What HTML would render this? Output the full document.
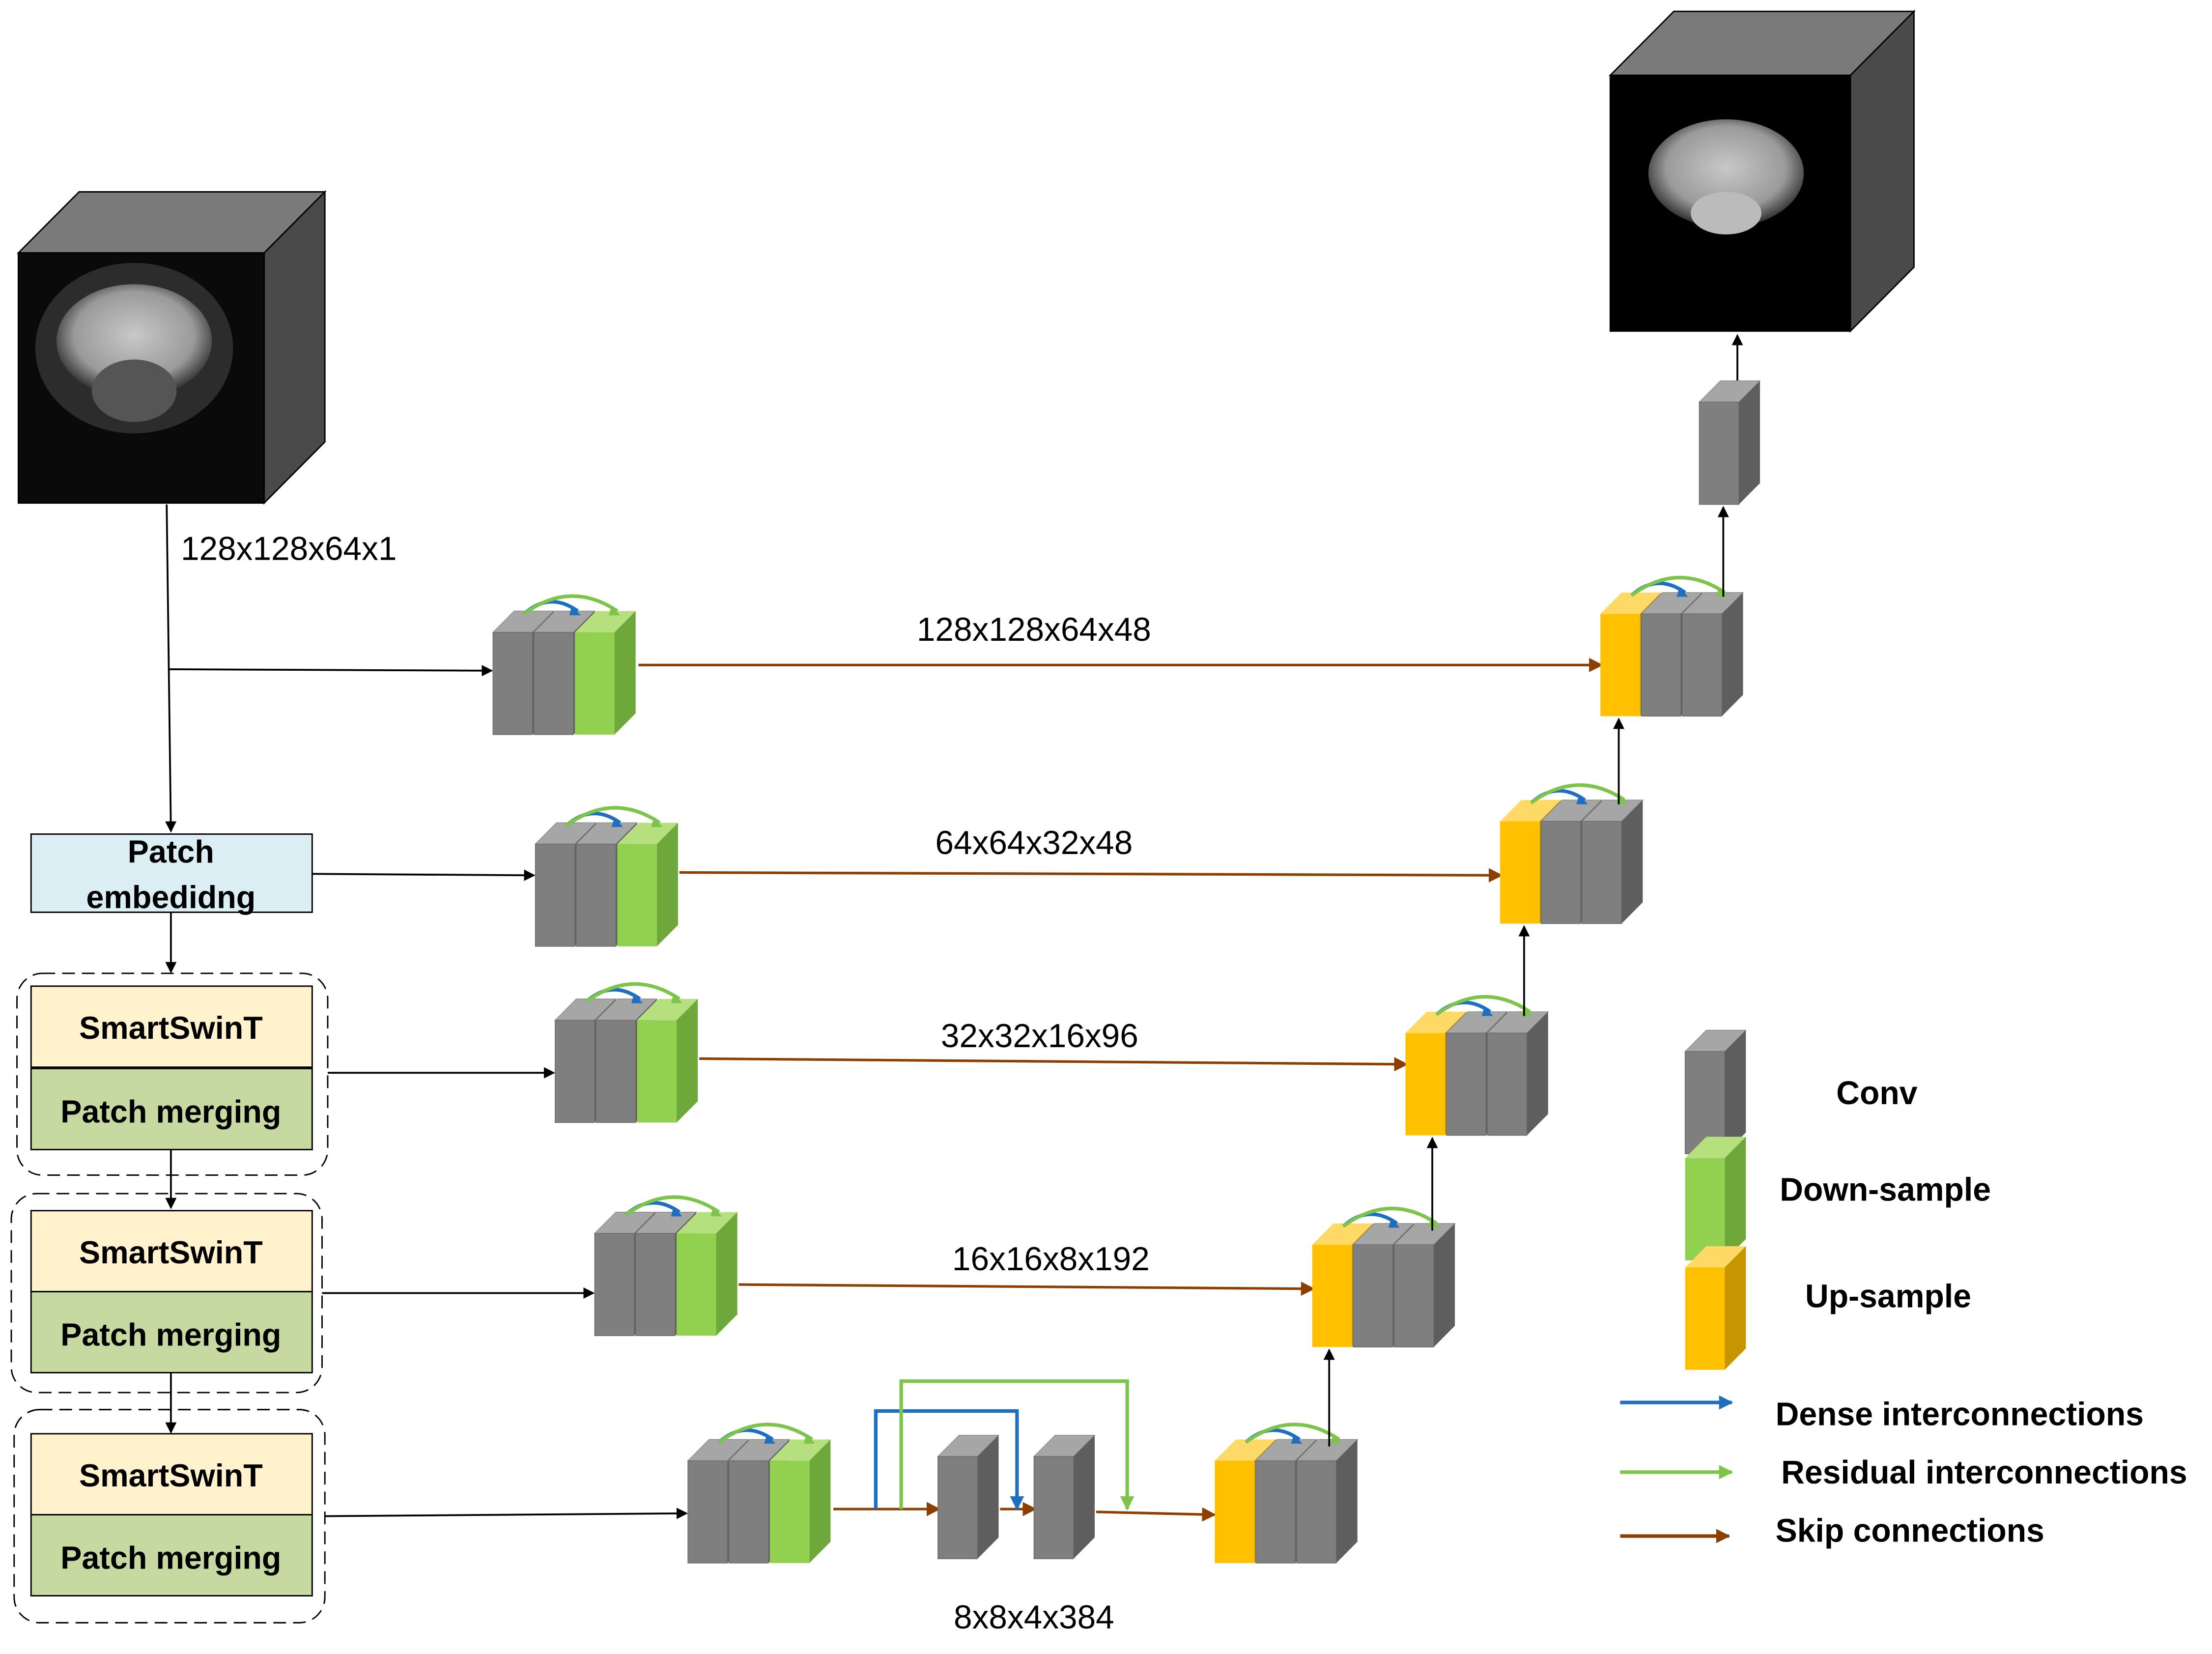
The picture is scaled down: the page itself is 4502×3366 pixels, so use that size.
<!DOCTYPE html>
<html><head><meta charset="utf-8"><style>
html,body{margin:0;padding:0;background:#fff;}
svg{display:block;}
text{font-family:"Liberation Sans",sans-serif;}
</style></head><body>
<svg width="4502" height="3366" viewBox="0 0 1566 1164" preserveAspectRatio="none" xmlns="http://www.w3.org/2000/svg">
<defs>
<g id="gb"><polygon points="0,15 15,0 43,0 28,15" fill="#a6a6a6" stroke="#8c8c8c" stroke-width="0.5"/><polygon points="28,15 43,0 43,72 28,87" fill="#5e5e5e"/><rect x="0" y="15" width="28" height="72" fill="#7f7f7f" stroke="#6a6a6a" stroke-width="0.5"/></g>
<g id="gg"><polygon points="0,15 15,0 43,0 28,15" fill="#b6e07e"/><polygon points="28,15 43,0 43,72 28,87" fill="#6ea83a"/><rect x="0" y="15" width="28" height="72" fill="#92d050"/></g>
<g id="gy"><polygon points="0,15 15,0 43,0 28,15" fill="#ffd966"/><polygon points="28,15 43,0 43,72 28,87" fill="#c79500"/><rect x="0" y="15" width="28" height="72" fill="#ffc000"/></g>
<g id="enc"><use href="#gb" x="0"/><use href="#gb" x="29"/><use href="#gg" x="58"/>
<path d="M22,2 Q40,-14 60,0" fill="none" stroke="#1f6fc0" stroke-width="2.5"/><polygon points="56,-4 62,3 54,3" fill="#1f6fc0"/>
<path d="M22,2 Q55,-22 88,0" fill="none" stroke="#7cc54a" stroke-width="2.5"/><polygon points="84,-4 90,3 82,3" fill="#7cc54a"/></g>
<g id="dec"><use href="#gy" x="0"/><use href="#gb" x="29"/><use href="#gb" x="58"/>
<path d="M22,2 Q40,-14 60,0" fill="none" stroke="#1f6fc0" stroke-width="2.5"/><polygon points="56,-4 62,3 54,3" fill="#1f6fc0"/>
<path d="M22,2 Q55,-22 88,0" fill="none" stroke="#7cc54a" stroke-width="2.5"/><polygon points="84,-4 90,3 82,3" fill="#7cc54a"/></g>
<marker id="ak" markerWidth="8" markerHeight="8" refX="7" refY="4" orient="auto" markerUnits="userSpaceOnUse"><path d="M0,0 L8,4 L0,8z" fill="#000"/></marker>
<marker id="ab" markerWidth="10" markerHeight="10" refX="9" refY="5" orient="auto" markerUnits="userSpaceOnUse"><path d="M0,0 L10,5 L0,10z" fill="#8b3f00"/></marker>
<marker id="abl" markerWidth="10" markerHeight="10" refX="9" refY="5" orient="auto" markerUnits="userSpaceOnUse"><path d="M0,0 L10,5 L0,10z" fill="#1f6fc0"/></marker>
<marker id="agr" markerWidth="10" markerHeight="10" refX="9" refY="5" orient="auto" markerUnits="userSpaceOnUse"><path d="M0,0 L10,5 L0,10z" fill="#7cc54a"/></marker>
<radialGradient id="br" cx="50%" cy="45%" r="55%"><stop offset="0" stop-color="#c8c8c8"/><stop offset="0.7" stop-color="#9a9a9a"/><stop offset="1" stop-color="#303030"/></radialGradient>
</defs>

<polygon points="13,178 56,135 230,135 187,178" fill="#7a7a7a" stroke="#000" stroke-width="1"/>
<polygon points="187,178 230,135 230,311 187,354" fill="#4a4a4a" stroke="#000" stroke-width="1"/>
<rect x="13" y="178" width="174" height="176" fill="#0a0a0a" stroke="#000"/>
<ellipse cx="95" cy="245" rx="70" ry="60" fill="#3a3a3a" opacity="0.7"/>
<ellipse cx="95" cy="240" rx="55" ry="40" fill="url(#br)"/>
<ellipse cx="95" cy="275" rx="30" ry="22" fill="#555"/>

<polygon points="1140,53 1185,8 1355,8 1310,53" fill="#7a7a7a" stroke="#000"/>
<polygon points="1310,53 1355,8 1355,188 1310,233" fill="#4a4a4a" stroke="#000"/>
<rect x="1140" y="53" width="170" height="180" fill="#000" stroke="#000"/>
<ellipse cx="1222" cy="122" rx="55" ry="38" fill="url(#br)"/>
<ellipse cx="1222" cy="150" rx="25" ry="15" fill="#bbb"/>

<line x1="118" y1="355" x2="121" y2="585" stroke="#000" stroke-width="1.3" marker-end="url(#ak)"/>
<line x1="120" y1="471" x2="348" y2="472" stroke="#000" stroke-width="1.3" marker-end="url(#ak)"/>
<text x="128" y="394" font-size="23.5">128x128x64x1</text>

<rect x="22" y="587" width="199" height="55" fill="#dbeef4" stroke="#000" stroke-width="1"/>
<text x="121" y="607" font-size="22.5" font-weight="bold" text-anchor="middle">Patch</text>
<text x="121" y="639" font-size="22.5" font-weight="bold" text-anchor="middle">embedidng</text>
<line x1="221" y1="615" x2="378" y2="616" stroke="#000" stroke-width="1.3" marker-end="url(#ak)"/>
<line x1="121" y1="642" x2="121" y2="684" stroke="#000" stroke-width="1.3" marker-end="url(#ak)"/>

<rect x="12" y="685" width="220" height="142" rx="18" fill="none" stroke="#000" stroke-dasharray="9,5"/>
<rect x="22" y="694" width="199" height="57" fill="#fff2cc" stroke="#000"/>
<text x="121" y="731" font-size="22.5" font-weight="bold" text-anchor="middle">SmartSwinT</text>
<rect x="22" y="752" width="199" height="57" fill="#c5d9a0" stroke="#000"/>
<text x="121" y="790" font-size="22.5" font-weight="bold" text-anchor="middle">Patch merging</text>
<line x1="232" y1="755" x2="392" y2="755" stroke="#000" stroke-width="1.3" marker-end="url(#ak)"/>
<line x1="121" y1="809" x2="121" y2="850" stroke="#000" stroke-width="1.3" marker-end="url(#ak)"/>

<rect x="8" y="840" width="220" height="140" rx="18" fill="none" stroke="#000" stroke-dasharray="9,5"/>
<rect x="22" y="852" width="199" height="57" fill="#fff2cc" stroke="#000"/>
<text x="121" y="889" font-size="22.5" font-weight="bold" text-anchor="middle">SmartSwinT</text>
<rect x="22" y="909" width="199" height="57" fill="#c5d9a0" stroke="#000"/>
<text x="121" y="947" font-size="22.5" font-weight="bold" text-anchor="middle">Patch merging</text>
<line x1="228" y1="910" x2="420" y2="910" stroke="#000" stroke-width="1.3" marker-end="url(#ak)"/>
<line x1="121" y1="966" x2="121" y2="1008" stroke="#000" stroke-width="1.3" marker-end="url(#ak)"/>

<rect x="10" y="992" width="220" height="150" rx="18" fill="none" stroke="#000" stroke-dasharray="9,5"/>
<rect x="22" y="1009" width="199" height="57" fill="#fff2cc" stroke="#000"/>
<text x="121" y="1046" font-size="22.5" font-weight="bold" text-anchor="middle">SmartSwinT</text>
<rect x="22" y="1066" width="199" height="57" fill="#c5d9a0" stroke="#000"/>
<text x="121" y="1104" font-size="22.5" font-weight="bold" text-anchor="middle">Patch merging</text>
<line x1="230" y1="1067" x2="486" y2="1065" stroke="#000" stroke-width="1.3" marker-end="url(#ak)"/>

<line x1="452" y1="468" x2="1134" y2="468" stroke="#8b3f00" stroke-width="1.8" marker-end="url(#ab)"/>
<text x="732" y="451" font-size="23.5" text-anchor="middle">128x128x64x48</text>
<line x1="481" y1="614" x2="1063" y2="616" stroke="#8b3f00" stroke-width="1.8" marker-end="url(#ab)"/>
<text x="732" y="601" font-size="23.5" text-anchor="middle">64x64x32x48</text>
<line x1="495" y1="745" x2="996" y2="749" stroke="#8b3f00" stroke-width="1.8" marker-end="url(#ab)"/>
<text x="736" y="737" font-size="23.5" text-anchor="middle">32x32x16x96</text>
<line x1="523" y1="904" x2="930" y2="907" stroke="#8b3f00" stroke-width="1.8" marker-end="url(#ab)"/>
<text x="744" y="894" font-size="23.5" text-anchor="middle">16x16x8x192</text>
<line x1="590" y1="1062" x2="665" y2="1062" stroke="#8b3f00" stroke-width="1.8" marker-end="url(#ab)"/>
<line x1="708" y1="1062" x2="733" y2="1062" stroke="#8b3f00" stroke-width="1.8" marker-end="url(#ab)"/>
<line x1="776" y1="1064" x2="860" y2="1066" stroke="#8b3f00" stroke-width="1.8" marker-end="url(#ab)"/>
<text x="732" y="1146" font-size="23.5" text-anchor="middle">8x8x4x384</text>

<polyline points="620,1062 620,993 720,993 720,1062" fill="none" stroke="#1f6fc0" stroke-width="2.5" marker-end="url(#abl)"/>
<polyline points="638,1062 638,972 798,972 798,1062" fill="none" stroke="#7cc54a" stroke-width="2.5" marker-end="url(#agr)"/>

<use href="#enc" x="349" y="430"/>
<use href="#enc" x="379" y="579"/>
<use href="#enc" x="393" y="703"/>
<use href="#enc" x="421" y="853"/>
<use href="#enc" x="487" y="1013"/>

<use href="#gb" x="664" y="1010"/>
<use href="#gb" x="732" y="1010"/>

<use href="#dec" x="1133" y="417"/>
<use href="#dec" x="1062" y="563"/>
<use href="#dec" x="995" y="712"/>
<use href="#dec" x="929" y="861"/>
<use href="#dec" x="860" y="1013"/>

<line x1="941" y1="1018" x2="941" y2="950" stroke="#000" stroke-width="1.3" marker-end="url(#ak)"/>
<line x1="1014" y1="866" x2="1014" y2="801" stroke="#000" stroke-width="1.3" marker-end="url(#ak)"/>
<line x1="1079" y1="715" x2="1079" y2="652" stroke="#000" stroke-width="1.3" marker-end="url(#ak)"/>
<line x1="1146" y1="566" x2="1146" y2="506" stroke="#000" stroke-width="1.3" marker-end="url(#ak)"/>
<line x1="1220" y1="420" x2="1220" y2="357" stroke="#000" stroke-width="1.3" marker-end="url(#ak)"/>
<line x1="1230" y1="268" x2="1230" y2="236" stroke="#000" stroke-width="1.3" marker-end="url(#ak)"/>

<use href="#gb" x="1203" y="268"/>

<use href="#gb" x="1193" y="725"/>
<use href="#gg" x="1193" y="800"/>
<use href="#gy" x="1193" y="877"/>
<text x="1300" y="777" font-size="23" font-weight="bold">Conv</text>
<text x="1260" y="845" font-size="23" font-weight="bold">Down-sample</text>
<text x="1278" y="920" font-size="23" font-weight="bold">Up-sample</text>
<line x1="1147" y1="987" x2="1226" y2="987" stroke="#1f6fc0" stroke-width="2.5" marker-end="url(#abl)"/>
<line x1="1147" y1="1036" x2="1226" y2="1036" stroke="#7cc54a" stroke-width="2.5" marker-end="url(#agr)"/>
<line x1="1147" y1="1081" x2="1224" y2="1081" stroke="#8b3f00" stroke-width="2.5" marker-end="url(#ab)"/>
<text x="1257" y="1003" font-size="23" font-weight="bold">Dense interconnections</text>
<text x="1261" y="1044" font-size="23" font-weight="bold">Residual interconnections</text>
<text x="1257" y="1085" font-size="23" font-weight="bold">Skip connections</text>
</svg>
</body></html>
